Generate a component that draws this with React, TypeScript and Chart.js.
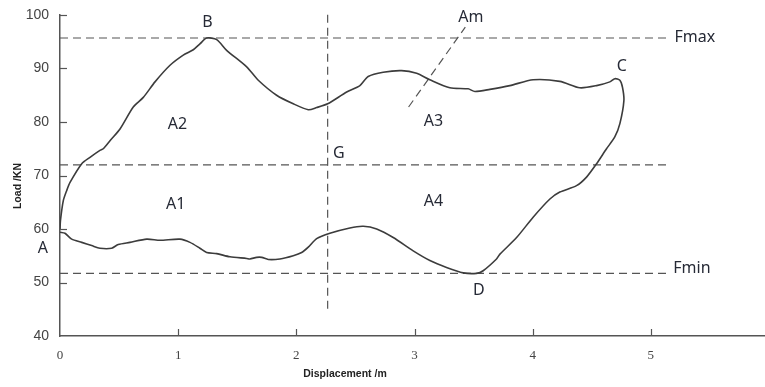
import React, { useEffect, useRef } from "react";
import { Chart, registerables } from "chart.js";

Chart.register(...registerables);

// Hysteresis loop (displacement m, load kN), traced A -> B -> C -> D -> A
const displacement = [
  0, 0.004, 0.028, 0.057, 0.085, 0.184, 0.254, 0.338, 0.366, 0.423, 0.508, 0.62, 0.705, 0.804,
  0.931, 1.043, 1.128, 1.184, 1.241, 1.326, 1.41, 1.58, 1.678, 1.833, 1.974, 2.101, 2.172, 2.265,
  2.426, 2.538, 2.608, 2.735, 2.891, 3.018, 3.13, 3.299, 3.454, 3.511, 3.638, 3.807, 4.004, 4.23,
  4.399, 4.541, 4.653, 4.695, 4.738, 4.76, 4.772, 4.738, 4.695, 4.625, 4.541, 4.456, 4.371, 4.23,
  4.146, 4.004, 3.864, 3.723, 3.694, 3.581, 3.525, 3.412, 3.271, 3.13, 2.989, 2.82, 2.68, 2.567,
  2.453, 2.284, 2.172, 2.101, 2.045, 1.974, 1.861, 1.763, 1.707, 1.664, 1.607, 1.58, 1.438, 1.326,
  1.241, 1.184, 1.1, 1.015, 0.846, 0.734, 0.592, 0.493, 0.437, 0.338, 0.268, 0.184, 0.099, 0.042, 0,
];
const load = [
  59.9, 61.6, 65.3, 67.2, 68.7, 72.2, 73.4, 74.7, 75.0, 76.5, 78.7, 82.8, 84.6, 87.5,
  90.6, 92.5, 93.5, 94.6, 95.7, 95.4, 93.4, 90.3, 87.8, 85.0, 83.4, 82.3, 82.7, 83.4,
  85.6, 86.8, 88.5, 89.3, 89.6, 89.1, 87.9, 86.4, 86.2, 85.7, 86.1, 86.8, 87.9, 87.6,
  86.4, 86.8, 87.5, 88.1, 87.8, 86.5, 84.0, 79.7, 77.2, 75.0, 72.2, 69.7, 68.1, 66.9,
  65.6, 62.2, 58.4, 55.3, 54.4, 52.2, 51.7, 51.8, 52.8, 54.1, 55.9, 58.4, 60.0, 60.5,
  60.2, 59.2, 58.2, 56.6, 55.6, 55.0, 54.4, 54.3, 54.7, 54.7, 54.4, 54.5, 54.8, 55.4,
  55.6, 56.4, 57.5, 58.1, 57.9, 58.1, 57.5, 57.1, 56.4, 56.4, 56.9, 57.5, 58.1, 59.2, 59.4,
];

// Reference lines
const fMax = 95.7;
const fMin = 51.7;
const gLoad = 72.0;
const gDisp = 2.265;
const refLineStart = 0;
const refLineEnd = 5.14;
const gVerticalLoads = [45.1, 100.9];
const amDisp = [2.95, 3.43];
const amLoad = [82.8, 97.75];

// Axes
const xMin = 0;
const xMax = 6;
const yMin = 40;
const yMax = 100;
const xTitle = "Displacement /m";
const yTitle = "Load /KN";

// Annotations (centered)
const labelTexts = ["B", "Am", "C", "A2", "A3", "G", "A1", "A4", "A", "D"];
const labelDisp = [1.248, 3.477, 4.755, 0.994, 3.16, 2.36, 0.98, 3.16, -0.144, 3.545];
const labelLoad = [98.6, 99.6, 90.4, 79.5, 80.1, 74.2, 64.6, 65.2, 56.3, 48.5];
// Annotations (left-aligned)
const sideLabelTexts = ["Fmax", "Fmin"];
const sideLabelDisp = [5.2, 5.19];
const sideLabelLoad = [95.8, 52.6];

const textColor = "#262a36";
const lineColor = "#3c3c3c";
const axisColor = "#555555";

const annotationPlugin = {
  id: "annotations",
  afterDraw(chart: any) {
    const ctx = chart.ctx;
    const xs = chart.scales.x;
    const ys = chart.scales.y;
    const area = chart.chartArea;
    ctx.save();
    // inner tick marks
    ctx.strokeStyle = axisColor;
    ctx.lineWidth = 1.2;
    for (let v = yMin + 10; v <= yMax; v += 10) {
      const py = Math.round(ys.getPixelForValue(v)) + 0.5;
      ctx.beginPath();
      ctx.moveTo(area.left, py);
      ctx.lineTo(area.left + 7, py);
      ctx.stroke();
    }
    for (let v = xMin + 1; v <= xMax; v += 1) {
      const px = Math.round(xs.getPixelForValue(v)) + 0.5;
      ctx.beginPath();
      ctx.moveTo(px, area.bottom);
      ctx.lineTo(px, area.bottom - 7);
      ctx.stroke();
    }
    // labels
    ctx.fillStyle = textColor;
    ctx.font = "16px 'Noto Sans', 'Open Sans', sans-serif";
    ctx.textAlign = "center";
    ctx.textBaseline = "middle";
    labelTexts.forEach((t, i) => {
      ctx.fillText(t, xs.getPixelForValue(labelDisp[i]), ys.getPixelForValue(labelLoad[i]));
    });
    ctx.textAlign = "left";
    sideLabelTexts.forEach((t, i) => {
      ctx.fillText(t, xs.getPixelForValue(sideLabelDisp[i]), ys.getPixelForValue(sideLabelLoad[i]));
    });
    // axis titles
    ctx.fillStyle = "#222";
    ctx.font = "bold 10.5px 'Liberation Sans', Arial, sans-serif";
    ctx.textAlign = "center";
    ctx.fillText(xTitle, 345, 374);
    ctx.translate(18, 186);
    ctx.rotate(-Math.PI / 2);
    ctx.fillText(yTitle, 0, 0);
    ctx.restore();
  },
};

export default function App() {
  const ref = useRef<HTMLCanvasElement>(null);
  useEffect(() => {
    if (!ref.current) return;
    const dashStyle = {
      borderColor: axisColor,
      borderWidth: 1.2,
      borderDash: [8, 5],
      pointRadius: 0,
      showLine: true,
      tension: 0,
      clip: false as any,
    };
    const chart = new Chart(ref.current, {
      type: "scatter",
      data: {
        datasets: [
          {
            label: "loop",
            data: displacement.map((d, i) => ({ x: d, y: load[i] })),
            borderColor: lineColor,
            borderWidth: 1.6,
            pointRadius: 0,
            showLine: true,
            tension: 0.25,
          },
          { label: "Fmax", data: [{ x: refLineStart, y: fMax }, { x: refLineEnd, y: fMax }], ...dashStyle },
          { label: "G-h", data: [{ x: refLineStart, y: gLoad }, { x: refLineEnd, y: gLoad }], ...dashStyle },
          { label: "Fmin", data: [{ x: refLineStart, y: fMin }, { x: refLineEnd, y: fMin }], ...dashStyle },
          {
            label: "G-v",
            data: [{ x: gDisp, y: gVerticalLoads[0] }, { x: gDisp, y: gVerticalLoads[1] }],
            ...dashStyle,
          },
          {
            label: "Am",
            data: [{ x: amDisp[0], y: amLoad[0] }, { x: amDisp[1], y: amLoad[1] }],
            ...dashStyle,
          },
        ],
      },
      options: {
        animation: false,
        responsive: false,
        layout: { padding: { left: 0, top: 15, right: 21, bottom: 0 } },
        plugins: { legend: { display: false }, tooltip: { enabled: false } },
        scales: {
          x: {
            type: "linear",
            min: xMin,
            max: xMax,
            afterFit: (s: any) => {
              s.height = 51;
              s.paddingLeft = 0;
              s.paddingRight = 0;
            },
            ticks: {
              stepSize: 1,
              padding: 12,
              color: "#444",
              font: { family: "'Liberation Serif', serif", size: 13 },
            },
            grid: { display: false, drawTicks: false },
            border: { color: axisColor, width: 1.5 },
          },
          y: {
            min: yMin,
            max: yMax,
            afterFit: (s: any) => {
              s.width = 60;
              s.paddingTop = 0;
              s.paddingBottom = 0;
            },
            ticks: {
              stepSize: 10,
              padding: 11,
              color: "#444",
              font: { family: "'Liberation Sans', Arial, sans-serif", size: 14 },
            },
            grid: { display: false, drawTicks: false },
            border: { color: axisColor, width: 1.5 },
          },
        },
      },
      plugins: [annotationPlugin],
    });
    return () => chart.destroy();
  }, []);
  return (
    <div
      style={{
        position: "fixed",
        left: 0,
        top: 0,
        width: 765,
        height: 387,
        overflow: "hidden",
        background: "#fff",
      }}
    >
      <canvas ref={ref} width={790} height={387} style={{ width: 790, height: 387, display: "block" }} />
    </div>
  );
}
